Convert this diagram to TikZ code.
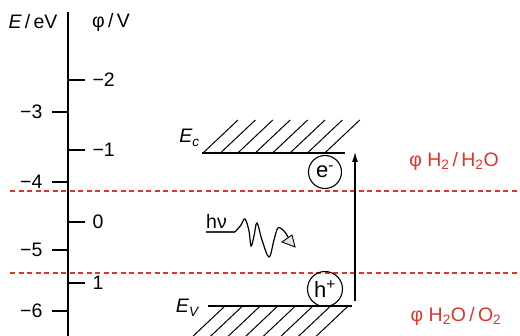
\documentclass[tikz,border=0pt]{standalone}
\usepackage{fontspec}
\setmainfont{Liberation Sans}
\usetikzlibrary{positioning, arrows.meta}
\definecolor{potred}{RGB}{226,50,42}
\definecolor{photon}{RGB}{234,224,242}

\begin{document}
\begin{tikzpicture}[x=1pt, y=-1pt,
    lbl/.style={font=\fontsize{19.5}{21}\selectfont, inner sep=1pt},
    redlbl/.style={lbl, text=potred},
    axisline/.style={line width=1.1pt},
    redox/.style={draw=potred, dash pattern=on 5pt off 3.5pt, line width=1.6pt},
    band/.style={line width=1.2pt},
    carrier/.style={draw, circle, line width=1.1pt, minimum size=33pt, inner sep=0pt, font=\fontsize{22}{24}\selectfont}
]
\useasboundingbox (0,0) rectangle (520,336);

% energy and potential scales
\coordinate (axtop) at (68,12);
\coordinate (axbot) at (68,340);
\draw[axisline] (axtop) -- (axbot);
\node[lbl] (ehead) at (33,22) {\textit{E}\,/\,eV};
\node[lbl] (phead) at (111,22) {φ\,/\,V};

\foreach \lab/\y [count=\i] in {−3/112, −4/182, −5/250, −6/311} {
  \coordinate (et\i) at (68,\y);
  \draw[axisline] (et\i) -- ++(-16,0) node[lbl, left=8pt] (el\i) {\lab};
}
\foreach \lab/\y [count=\i] in {−2/80, −1/150, 0/222, 1/283} {
  \coordinate (pt\i) at (68,\y);
  \draw[axisline] (pt\i) -- ++(17,0) node[lbl, right=6pt] (pl\i) {\lab};
}

% redox potentials of water
\coordinate (hredL) at (10,191);
\coordinate (hredR) at (520,191);
\coordinate (oxL) at (10,273);
\coordinate (oxR) at (520,273);
\draw[redox] (hredL) -- (hredR);
\draw[redox] (oxL) -- (oxR);
\node[redlbl] (hlab) at (454,161) {φ H\textsubscript{2}\,/\,H\textsubscript{2}O};
\node[redlbl] (olab) at (456,316) {φ H\textsubscript{2}O\,/\,O\textsubscript{2}};

% conduction band
\coordinate (ecL) at (202,153);
\coordinate (ecR) at (345,153);
\draw[band] (ecL) -- (ecR);
\foreach \k in {0,...,7}
  \draw[line width=1pt] (203+17.4*\k,153) -- ++(35,-33);
\node[lbl, anchor=base east] (ec) at (201,143) {\textit{E}\textsubscript{\textit{c}}};

% valence band
\coordinate (evL) at (208,306);
\coordinate (evR) at (352,306);
\draw[band] (evL) -- (evR);
\foreach \k in {0,...,7}
  \draw[line width=1pt] (225+17.6*\k,306) -- ++(-36,34);
\node[lbl, anchor=base east] (ev) at (201,313) {\textit{E}\textsubscript{\textit{V}}};

% excitation
\coordinate (vb) at (355,301);
\coordinate (cb) at (355,152);
\draw[line width=1.1pt, -{Latex[length=10pt, width=6pt]}] (vb) -- (cb);
\node[carrier] (elec) at (325,172) {e\textsuperscript{-}};
\node[carrier, minimum size=35pt] (hole) at (325,289) {h\textsuperscript{+}};

% photon
\node[lbl, anchor=base west] (hnu) at (205,229) {hν};
\coordinate (ws) at (206,232);
\coordinate (wk) at (235,232);
\draw[line width=1.8pt, black!80] (ws) -- (wk);
\draw[line width=1.2pt] plot[smooth, tension=0.6] coordinates {
  (235,232) (241,225) (245,219) (249,231) (251,246) (254,236) (257,223)
  (262,240) (269,257) (274,240) (278,228) (284,231) (288,237)};
\filldraw[fill=photon, line width=0.9pt] (282,242) -- (292,235) -- (295,247) -- cycle;
\end{tikzpicture}
\end{document}
